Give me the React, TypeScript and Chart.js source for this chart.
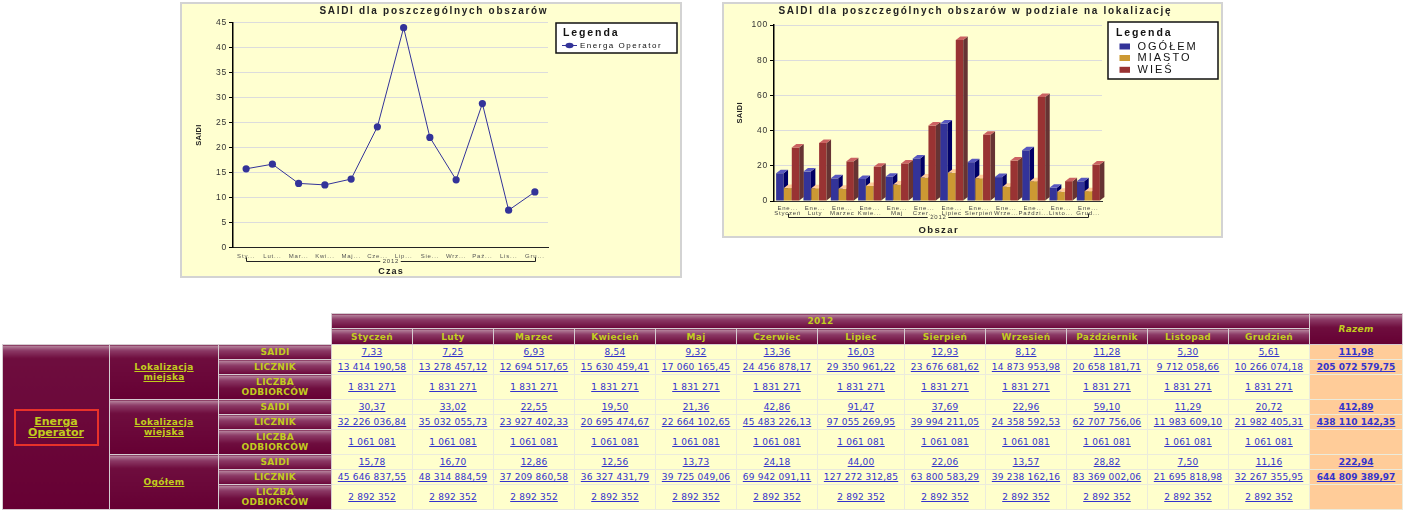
import React, { useEffect, useRef } from 'react';
import { Chart, registerables } from 'chart.js';

Chart.register(...registerables);

// ---------------- DATA ----------------
const yearLabel = '2012';
const months = ['Styczeń', 'Luty', 'Marzec', 'Kwiecień', 'Maj', 'Czerwiec', 'Lipiec', 'Sierpień', 'Wrzesień', 'Październik', 'Listopad', 'Grudzień'];
const lineTickLabels = ['Sty...', 'Lut...', 'Mar...', 'Kwi...', 'Maj...', 'Cze...', 'Lip...', 'Sie...', 'Wrz...', 'Paź...', 'Lis...', 'Gru...'];
const barTickLabels = [
  ['Ene...', 'Styczeń'], ['Ene...', 'Luty'], ['Ene...', 'Marzec'], ['Ene...', 'Kwie...'],
  ['Ene...', 'Maj'], ['Ene...', 'Czer...'], ['Ene...', 'Lipiec'], ['Ene...', 'Sierpień'],
  ['Ene...', 'Wrze...'], ['Ene...', 'Paździ...'], ['Ene...', 'Listo...'], ['Ene...', 'Grud...'],
];
const lineSeriesName = 'Energa Operator';
const barSeriesNames = ['OGÓŁEM', 'MIASTO', 'WIEŚ'];
const lineYMax = 45;
const lineYStep = 5;
const barYMax = 100;
const barYStep = 20;

const saidiMiasto = [7.33, 7.25, 6.93, 8.54, 9.32, 13.36, 16.03, 12.93, 8.12, 11.28, 5.30, 5.61];
const licznikMiasto = [13414190.58, 13278457.12, 12694517.65, 15630459.41, 17060165.45, 24456878.17, 29350961.22, 23676681.62, 14873953.98, 20658181.71, 9712058.66, 10266074.18];
const odbiorcyMiasto = [1831271, 1831271, 1831271, 1831271, 1831271, 1831271, 1831271, 1831271, 1831271, 1831271, 1831271, 1831271];

const saidiWies = [30.37, 33.02, 22.55, 19.50, 21.36, 42.86, 91.47, 37.69, 22.96, 59.10, 11.29, 20.72];
const licznikWies = [32226036.84, 35032055.73, 23927402.33, 20695474.67, 22664102.65, 45483226.13, 97055269.95, 39994211.05, 24358592.53, 62707756.06, 11983609.10, 21982405.31];
const odbiorcyWies = [1061081, 1061081, 1061081, 1061081, 1061081, 1061081, 1061081, 1061081, 1061081, 1061081, 1061081, 1061081];

const saidiOgolem = [15.78, 16.70, 12.86, 12.56, 13.73, 24.18, 44.00, 22.06, 13.57, 28.82, 7.50, 11.16];
const licznikOgolem = [45646837.55, 48314884.59, 37209860.58, 36327431.79, 39725049.06, 69942091.11, 127272312.85, 63800583.29, 39238162.16, 83369002.06, 21695818.98, 32267355.95];
const odbiorcyOgolem = [2892352, 2892352, 2892352, 2892352, 2892352, 2892352, 2892352, 2892352, 2892352, 2892352, 2892352, 2892352];

const razemSaidi = [111.98, 412.89, 222.94];
const razemLicznik = [205072579.75, 438110142.35, 644809389.97];

// ---------------- STYLE ----------------
const FONT = '"Liberation Sans", Arial, sans-serif';
const TFONT = '"DejaVu Sans", Verdana, sans-serif';
const LINE_COLOR = '#333399';
const barPalette = [
  { front: '#333399', top: '#5858c0', side: '#000066' },
  { front: '#CC9933', top: '#FFCC99', side: '#996633' },
  { front: '#993333', top: '#CC6262', side: '#663333' },
];

function fmt(n: number, dec: number) {
  const [i, d] = n.toFixed(dec).split('.');
  const g = i.replace(/\B(?=(\d{3})+(?!\d))/g, ' ');
  return d ? g + ',' + d : g;
}

function drawText(ctx: any, s: string, x: number, y: number, o: { font: string; color: string; align?: string; spacing?: number; rotate?: number }) {
  ctx.save();
  ctx.font = o.font;
  ctx.fillStyle = o.color;
  ctx.textAlign = o.align || 'center';
  ctx.textBaseline = 'middle';
  const sp = o.spacing || 0;
  ctx.letterSpacing = sp + 'px';
  ctx.translate(x, y);
  if (o.rotate) ctx.rotate(o.rotate);
  const off = (o.align || 'center') === 'center' ? sp / 2 : 0;
  ctx.fillText(s, off, 0);
  ctx.restore();
}

function drawBracket(ctx: any, x0: number, x1: number, y: number, label: string) {
  ctx.save();
  ctx.font = `6px ${FONT}`;
  ctx.letterSpacing = '0.8px';
  const w = ctx.measureText(label).width + 4;
  const cx = (x0 + x1) / 2;
  ctx.strokeStyle = '#222';
  ctx.lineWidth = 1;
  const yy = Math.round(y) + 0.5;
  const xa = Math.round(x0) + 0.5;
  const xb = Math.round(x1) + 0.5;
  ctx.beginPath();
  ctx.moveTo(xa, yy - 4);
  ctx.lineTo(xa, yy);
  ctx.lineTo(cx - w / 2, yy);
  ctx.moveTo(cx + w / 2, yy);
  ctx.lineTo(xb, yy);
  ctx.lineTo(xb, yy - 4);
  ctx.stroke();
  ctx.restore();
  drawText(ctx, label, cx, yy - 0.5, { font: `6px ${FONT}`, color: '#444', spacing: 0.8 });
}

function legendBox(ctx: any, x: number, y: number, w: number, h: number) {
  ctx.save();
  ctx.fillStyle = '#ffffff';
  ctx.fillRect(x, y, w, h);
  ctx.strokeStyle = '#111';
  ctx.lineWidth = 1.5;
  ctx.strokeRect(x, y, w, h);
  ctx.restore();
}

const tracking = {
  id: 'tracking',
  beforeDraw(chart: any) { chart.ctx.letterSpacing = '0.8px'; },
  afterDraw(chart: any) { chart.ctx.letterSpacing = '0px'; },
};

const lineExtras = {
  id: 'lineExtras',
  afterDraw(chart: any) {
    const ctx = chart.ctx;
    const a = chart.chartArea;
    const xs = chart.scales.x;
    const cx = (a.left + a.right) / 2;
    drawText(ctx, 'SAIDI dla poszczególnych obszarów', 251, 7, { font: `bold 10px ${FONT}`, color: '#222', spacing: 1.7 });
    drawText(ctx, 'SAIDI', 17, (a.top + a.bottom) / 2, { font: `bold 7.5px ${FONT}`, color: '#222', spacing: 0.3, rotate: -Math.PI / 2 });
    drawBracket(ctx, xs.getPixelForValue(0), xs.getPixelForValue(saidiOgolem.length - 1), 256.5, yearLabel);
    drawText(ctx, 'Czas', cx, 268, { font: `bold 9px ${FONT}`, color: '#222', spacing: 1.2 });
    // legend
    legendBox(ctx, 374, 19, 121, 30);
    drawText(ctx, 'Legenda', 381, 29.5, { font: `bold 10.5px ${FONT}`, color: '#111', align: 'left', spacing: 1.9 });
    ctx.save();
    ctx.strokeStyle = LINE_COLOR;
    ctx.lineWidth = 1;
    ctx.beginPath();
    ctx.moveTo(380, 41.5);
    ctx.lineTo(395, 41.5);
    ctx.stroke();
    ctx.fillStyle = LINE_COLOR;
    ctx.beginPath();
    ctx.ellipse(387.5, 41.5, 4, 2.8, 0, 0, Math.PI * 2);
    ctx.fill();
    ctx.restore();
    drawText(ctx, lineSeriesName, 398, 41.5, { font: `8px ${FONT}`, color: '#111', align: 'left', spacing: 1.5 });
  },
};

const bar3d = {
  id: 'bar3d',
  afterDatasetsDraw(chart: any) {
    const ctx = chart.ctx;
    const dx = 4.5;
    const dy = 3.5;
    ctx.save();
    chart.data.datasets.forEach((_ds: any, di: number) => {
      const meta = chart.getDatasetMeta(di);
      const pal = barPalette[di];
      meta.data.forEach((el: any) => {
        const { x, y, base, width } = el.getProps(['x', 'y', 'base', 'width'], true);
        const l = x - width / 2;
        const r = x + width / 2;
        ctx.fillStyle = pal.front;
        ctx.fillRect(l, y, width, base - y);
        ctx.fillStyle = pal.side;
        ctx.beginPath();
        ctx.moveTo(r, y);
        ctx.lineTo(r + dx, y - dy);
        ctx.lineTo(r + dx, base - dy);
        ctx.lineTo(r, base);
        ctx.closePath();
        ctx.fill();
        ctx.fillStyle = pal.top;
        ctx.beginPath();
        ctx.moveTo(l, y);
        ctx.lineTo(l + dx, y - dy);
        ctx.lineTo(r + dx, y - dy);
        ctx.lineTo(r, y);
        ctx.closePath();
        ctx.fill();
      });
    });
    ctx.restore();
  },
};

const barExtras = {
  id: 'barExtras',
  afterDraw(chart: any) {
    const ctx = chart.ctx;
    const a = chart.chartArea;
    const xs = chart.scales.x;
    const cx = (a.left + a.right) / 2;
    drawText(ctx, 'SAIDI dla poszczególnych obszarów w podziale na lokalizację', 250.5, 7, { font: `bold 10px ${FONT}`, color: '#222', spacing: 1.7 });
    drawText(ctx, 'SAIDI', 16, (a.top + a.bottom) / 2, { font: `bold 7.5px ${FONT}`, color: '#222', spacing: 0.3, rotate: -Math.PI / 2 });
    drawBracket(ctx, xs.getPixelForValue(0), xs.getPixelForValue(barTickLabels.length - 1), 213, yearLabel);
    drawText(ctx, 'Obszar', cx, 226, { font: `bold 9.5px ${FONT}`, color: '#222', spacing: 1.4 });
    legendBox(ctx, 384, 18, 110, 57);
    drawText(ctx, 'Legenda', 392, 29.5, { font: `bold 10.5px ${FONT}`, color: '#111', align: 'left', spacing: 1.9 });
    const ys = [42.5, 54, 65.8];
    barSeriesNames.forEach((n, i) => {
      ctx.fillStyle = barPalette[i].front;
      ctx.fillRect(395.5, ys[i] - 3, 10.5, 6);
      drawText(ctx, n, 413.5, ys[i], { font: `11px ${FONT}`, color: '#111', align: 'left', spacing: 2 });
    });
  },
};

function makeLineChart(canvas: HTMLCanvasElement) {
  return new Chart(canvas, {
    type: 'line',
    data: {
      labels: lineTickLabels,
      datasets: [{
        label: lineSeriesName,
        data: saidiOgolem,
        borderColor: LINE_COLOR,
        backgroundColor: LINE_COLOR,
        borderWidth: 1,
        pointRadius: 3.6,
        pointHoverRadius: 3.6,
        pointBorderWidth: 0,
        pointBackgroundColor: LINE_COLOR,
        tension: 0,
        fill: false,
      }],
    },
    options: {
      responsive: false,
      animation: false,
      events: [],
      layout: { padding: { left: 0, right: 132, top: 18.7, bottom: 0 } },
      plugins: { legend: { display: false }, title: { display: false }, tooltip: { enabled: false } },
      scales: {
        x: {
          offset: true,
          grid: { display: false, drawTicks: false },
          border: { color: '#222', width: 1 },
          ticks: { autoSkip: false, maxRotation: 0, padding: 5, color: '#555', font: { family: FONT, size: 6 } },
          afterFit: (s: any) => { s.height = 28.3; },
        },
        y: {
          min: 0,
          max: lineYMax,
          ticks: { stepSize: lineYStep, padding: 2, color: '#333', font: { family: FONT, size: 8.5 } },
          grid: { color: '#dcdcdc', tickColor: '#000', tickLength: 4, lineWidth: 1 },
          border: { color: '#000', width: 1.5 },
          afterFit: (s: any) => { s.width = 51; },
        },
      },
    },
    plugins: [tracking, lineExtras],
  } as any);
}

function makeBarChart(canvas: HTMLCanvasElement) {
  const series = [saidiOgolem, saidiMiasto, saidiWies];
  return new Chart(canvas, {
    type: 'bar',
    data: {
      labels: barTickLabels,
      datasets: series.map((d, i) => ({
        label: barSeriesNames[i],
        data: d,
        backgroundColor: 'rgba(0,0,0,0)',
        borderWidth: 0,
        categoryPercentage: 0.86,
        barPercentage: 0.95,
      })),
    },
    options: {
      responsive: false,
      animation: false,
      events: [],
      layout: { padding: { left: 0, right: 119, top: 21, bottom: 0 } },
      plugins: { legend: { display: false }, title: { display: false }, tooltip: { enabled: false } },
      scales: {
        x: {
          offset: true,
          grid: { display: false, drawTicks: false },
          border: { color: '#333', width: 1 },
          ticks: { autoSkip: false, maxRotation: 0, padding: 4, color: '#444', font: { family: FONT, size: 6, lineHeight: 0.95 } },
          afterFit: (s: any) => { s.height = 35; },
        },
        y: {
          min: 0,
          max: barYMax,
          ticks: { stepSize: barYStep, padding: 2, color: '#333', font: { family: FONT, size: 8.5 } },
          grid: { color: '#dcdcdc', tickColor: '#000', tickLength: 4, lineWidth: 1 },
          border: { color: '#000', width: 1.5 },
          afterFit: (s: any) => { s.width = 50; },
        },
      },
    },
    plugins: [tracking, bar3d, barExtras],
  } as any);
}

// ---------------- TABLE ----------------
const hdrBg = 'linear-gradient(180deg, #b98aa1 0px, #8c3a66 5px, #6e0d3e 13px, #660033 100%)';
const hdrText = '#c2cc1e';
const thS: React.CSSProperties = {
  background: hdrBg, color: hdrText, fontWeight: 'bold', textAlign: 'center', verticalAlign: 'middle',
  border: '1px solid #d6ccd1', padding: 0, letterSpacing: '0.3px', lineHeight: '10px', whiteSpace: 'nowrap', overflow: 'hidden',
};
const tdS: React.CSSProperties = {
  background: '#FFFFCC', border: '1px solid #ebebdc', textAlign: 'center', verticalAlign: 'middle', padding: 0,
  color: '#3333CC', letterSpacing: '0.2px', whiteSpace: 'nowrap', overflow: 'hidden',
};
const razS: React.CSSProperties = { ...tdS, background: '#FFCC99', fontWeight: 'bold', letterSpacing: '0px' };
const ul: React.CSSProperties = { textDecoration: 'underline' };

const groups = [
  { name: ['Lokalizacja', 'miejska'], saidi: saidiMiasto, licznik: licznikMiasto, odb: odbiorcyMiasto },
  { name: ['Lokalizacja', 'wiejska'], saidi: saidiWies, licznik: licznikWies, odb: odbiorcyWies },
  { name: ['Ogółem'], saidi: saidiOgolem, licznik: licznikOgolem, odb: odbiorcyOgolem },
];
const colWidths = [107, 109, 113, 81, 81, 81, 81, 81, 81, 87, 81, 81, 81, 81, 81, 93];

function DataTable() {
  const rows: any[] = [];
  groups.forEach((g, gi) => {
    rows.push(
      <tr key={gi + 'a'} style={{ height: 15 }}>
        {gi === 0 && (
          <th rowSpan={9} style={{ ...thS, lineHeight: '11px', fontSize: 11, letterSpacing: '0px' }}>
            <span style={{ display: 'inline-block', width: 85, height: 37, boxSizing: 'border-box', border: '2px solid #e8322a', paddingTop: 5, ...ul }}>
              Energa<br />Operator
            </span>
          </th>
        )}
        <th rowSpan={3} style={thS}>
          <span style={ul}>{g.name.map((t, i) => <React.Fragment key={i}>{i > 0 && <br />}{t}</React.Fragment>)}</span>
        </th>
        <th style={thS}>SAIDI</th>
        {g.saidi.map((v, i) => <td key={i} style={tdS}><span style={ul}>{fmt(v, 2)}</span></td>)}
        <td style={razS}><span style={ul}>{fmt(razemSaidi[gi], 2)}</span></td>
      </tr>,
    );
    rows.push(
      <tr key={gi + 'b'} style={{ height: 15 }}>
        <th style={thS}>LICZNIK</th>
        {g.licznik.map((v, i) => <td key={i} style={tdS}><span style={ul}>{fmt(v, 2)}</span></td>)}
        <td style={razS}><span style={ul}>{fmt(razemLicznik[gi], 2)}</span></td>
      </tr>,
    );
    rows.push(
      <tr key={gi + 'c'} style={{ height: 25 }}>
        <th style={thS}>LICZBA<br />ODBIORCÓW</th>
        {g.odb.map((v, i) => <td key={i} style={tdS}><span style={ul}>{fmt(v, 0)}</span></td>)}
        <td style={razS}></td>
      </tr>,
    );
  });
  return (
    <table style={{
      position: 'absolute', left: 2, top: 313, borderCollapse: 'collapse', tableLayout: 'fixed',
      width: colWidths.reduce((s, w) => s + w, 0), fontFamily: TFONT, fontSize: 9,
    }}>
      <colgroup>{colWidths.map((w, i) => <col key={i} style={{ width: w }} />)}</colgroup>
      <tbody>
        <tr style={{ height: 15 }}>
          <td colSpan={3} rowSpan={2} style={{ border: 'none', background: 'transparent', padding: 0 }}></td>
          <th colSpan={12} style={thS}>{yearLabel}</th>
          <th rowSpan={2} style={{ ...thS, fontStyle: 'italic' }}>Razem</th>
        </tr>
        <tr style={{ height: 16 }}>
          {months.map((m) => <th key={m} style={thS}>{m}</th>)}
        </tr>
        {rows}
      </tbody>
    </table>
  );
}

export default function App() {
  const c1 = useRef<HTMLCanvasElement>(null);
  const c2 = useRef<HTMLCanvasElement>(null);
  useEffect(() => {
    const ch1 = makeLineChart(c1.current as HTMLCanvasElement);
    const ch2 = makeBarChart(c2.current as HTMLCanvasElement);
    return () => { ch1.destroy(); ch2.destroy(); };
  }, []);
  return (
    <div style={{ position: 'absolute', left: 0, top: 0, width: 1407, height: 520, background: '#fff', overflow: 'hidden' }}>
      <div style={{ position: 'absolute', left: 180, top: 2, width: 498, height: 272, border: '2px solid #d3d3d3', background: '#FFFFD0' }}>
        <canvas ref={c1} width={498} height={272} style={{ display: 'block', width: 498, height: 272 }} />
      </div>
      <div style={{ position: 'absolute', left: 722, top: 2, width: 497, height: 232, border: '2px solid #d3d3d3', background: '#FFFFD0' }}>
        <canvas ref={c2} width={497} height={232} style={{ display: 'block', width: 497, height: 232 }} />
      </div>
      <DataTable />
    </div>
  );
}
